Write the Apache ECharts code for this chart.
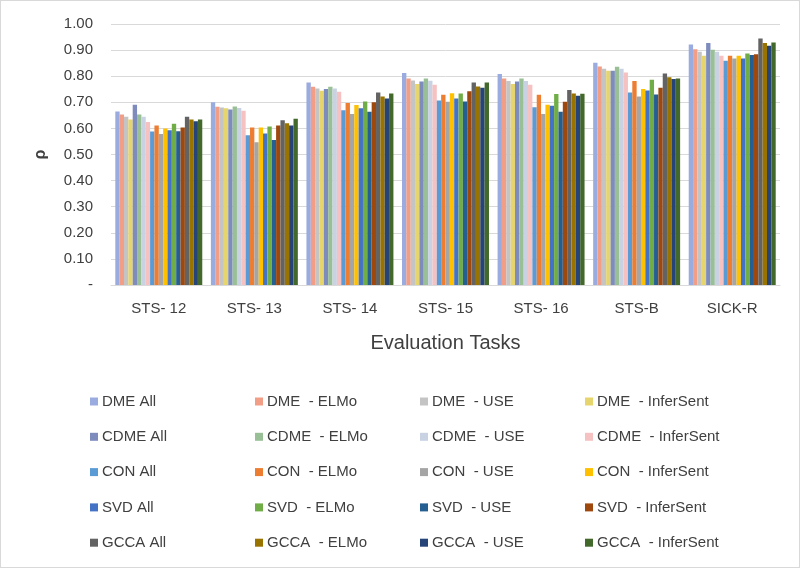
<!DOCTYPE html>
<html>
<head>
<meta charset="utf-8">
<script src="https://cdn.jsdelivr.net/npm/echarts@6/dist/echarts.min.js"></script>
<style>
html,body{margin:0;padding:0;background:#fff;}
#c{width:798px;height:566px;border:1px solid #d9d9d9;}
</style>
</head>
<body>
<div id="c"></div>
<script>
const categories = ['STS- 12','STS- 13','STS- 14','STS- 15','STS- 16','STS-B','SICK-R'];
const seriesNames = [
  'DME All','DME  - ELMo','DME  - USE','DME  - InferSent',
  'CDME All','CDME  - ELMo','CDME  - USE','CDME  - InferSent',
  'CON All','CON  - ELMo','CON  - USE','CON  - InferSent',
  'SVD All','SVD  - ELMo','SVD  - USE','SVD  - InferSent',
  'GCCA All','GCCA  - ELMo','GCCA  - USE','GCCA  - InferSent'
];
const colors = [
  '#9aabdf','#f29d86','#c4c4c4','#e6d46c',
  '#7d8cbd','#99bf96','#c8d2e2','#f6c1c1',
  '#5b9bd5','#ed7d31','#a5a5a5','#ffc000',
  '#4472c4','#70ad47','#255e91','#9e480e',
  '#636363','#997300','#264478','#43682b'
];
// values per series, across categories
const dmeAll        = [0.665,0.700,0.776,0.812,0.808,0.852,0.921];
const dmeElmo       = [0.653,0.683,0.760,0.791,0.791,0.837,0.903];
const dmeUse        = [0.645,0.680,0.753,0.784,0.782,0.829,0.894];
const dmeInfer      = [0.634,0.677,0.744,0.770,0.770,0.821,0.878];
const cdmeAll       = [0.691,0.672,0.751,0.780,0.780,0.821,0.927];
const cdmeElmo      = [0.653,0.684,0.760,0.791,0.791,0.836,0.901];
const cdmeUse       = [0.645,0.678,0.753,0.783,0.782,0.829,0.894];
const cdmeInfer     = [0.625,0.668,0.740,0.767,0.767,0.814,0.878];
const conAll        = [0.588,0.574,0.670,0.707,0.681,0.738,0.859];
const conElmo       = [0.611,0.603,0.697,0.729,0.729,0.782,0.878];
const conUse        = [0.579,0.547,0.655,0.702,0.655,0.722,0.868];
const conInfer      = [0.600,0.603,0.690,0.735,0.691,0.751,0.878];
const svdAll        = [0.593,0.580,0.677,0.715,0.687,0.745,0.868];
const svdElmo       = [0.618,0.607,0.703,0.734,0.732,0.786,0.887];
const svdUse        = [0.589,0.556,0.664,0.703,0.664,0.730,0.881];
const svdInfer      = [0.603,0.611,0.700,0.742,0.702,0.756,0.884];
const gccaAll       = [0.645,0.631,0.738,0.776,0.747,0.810,0.944];
const gccaElmo      = [0.634,0.620,0.722,0.761,0.734,0.796,0.927];
const gccaUse       = [0.627,0.611,0.715,0.756,0.725,0.789,0.917];
const gccaInfer     = [0.634,0.637,0.734,0.776,0.733,0.791,0.929];
const seriesValues = [
  dmeAll,dmeElmo,dmeUse,dmeInfer,
  cdmeAll,cdmeElmo,cdmeUse,cdmeInfer,
  conAll,conElmo,conUse,conInfer,
  svdAll,svdElmo,svdUse,svdInfer,
  gccaAll,gccaElmo,gccaUse,gccaInfer
];
const yTicks = [0,0.1,0.2,0.3,0.4,0.5,0.6,0.7,0.8,0.9,1.0];

const FONT = 'Liberation Sans';
const chart = echarts.init(document.getElementById('c'));

const legendCols = [84, 249, 414, 579];
const legends = legendCols.map((left, ci) => ({
  orient: 'vertical',
  left: left,
  top: 388,
  itemWidth: 8,
  itemHeight: 8,
  itemGap: 20.3,
  icon: 'rect',
  textStyle: {fontFamily: FONT, fontSize: 15, color: '#404040', padding: [0,0,0,-1]},
  data: [0,1,2,3,4].map(r => seriesNames[r*4+ci])
}));

chart.setOption({
  animation: false,
  color: colors,
  textStyle: {fontFamily: FONT},
  grid: {left: 110, right: 19, top: 23, bottom: 282},
  legend: legends,
  xAxis: {
    type: 'category',
    data: categories,
    name: 'Evaluation Tasks',
    nameLocation: 'middle',
    nameGap: 48,
    nameTextStyle: {fontFamily: FONT, fontSize: 20, color: '#404040'},
    axisLine: {show: true, lineStyle: {color: '#d9d9d9'}},
    axisTick: {show: false},
    axisLabel: {fontFamily: FONT, fontSize: 15, color: '#404040', margin: 16}
  },
  yAxis: {
    type: 'value',
    min: 0, max: 1, interval: 0.1,
    name: 'ρ',
    nameLocation: 'middle',
    nameRotate: 90,
    nameGap: 62,
    nameTextStyle: {fontFamily: FONT, fontSize: 16, fontWeight: 'bold', color: '#404040'},
    axisLine: {show: false},
    axisTick: {show: false},
    splitLine: {show: true, lineStyle: {color: '#d9d9d9'}},
    axisLabel: {
      fontFamily: FONT, fontSize: 15, color: '#404040', margin: 18,
      formatter: v => (Math.abs(v) < 1e-9 ? '-' : v.toFixed(2))
    }
  },
  series: seriesNames.map((n, i) => ({
    name: n,
    type: 'bar',
    data: seriesValues[i],
    barGap: '0%',
    barCategoryGap: '9%',
    itemStyle: {color: colors[i]}
  }))
});
</script>
</body>
</html>
